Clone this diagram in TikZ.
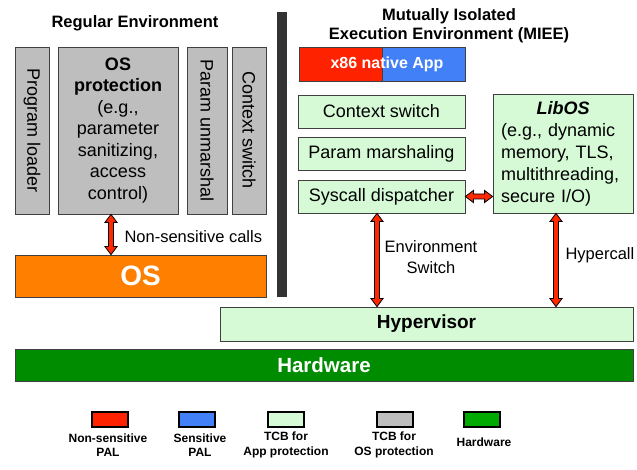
\documentclass[tikz,border=0pt]{standalone}
\usepackage{fontspec}
\setmainfont{Liberation Sans}
\usetikzlibrary{calc}
\definecolor{gbox}{RGB}{190,190,190}
\definecolor{lgreen}{RGB}{214,250,214}
\definecolor{pred}{RGB}{255,34,0}
\definecolor{pblue}{RGB}{66,128,248}
\definecolor{osorange}{RGB}{255,128,0}
\definecolor{hwgreen}{RGB}{0,140,0}
\definecolor{lggreen}{RGB}{0,170,0}
\definecolor{barc}{RGB}{51,51,51}
\definecolor{arrred}{RGB}{255,40,0}
\begin{document}
\begin{tikzpicture}[x=1pt,y=-1pt,
  blk/.style 2 args={rectangle, draw=black!75, line width=0.8pt, inner sep=0pt,
    minimum width=#1pt, minimum height=#2pt},
  lg/.style={rectangle, draw=black, line width=2pt, inner sep=0pt,
    minimum width=36pt, minimum height=15pt},
  lgtext/.style={align=center, font=\bfseries\fontsize{12}{14.5}\selectfont},
  big/.style={font=\fontsize{18}{21.5}\selectfont},
  lbl/.style={font=\fontsize{16.5}{20}\selectfont},
  ttl/.style={font=\bfseries\fontsize{16.5}{19}\selectfont, align=center},
  fatarrow/.style={fill=arrred, draw=black, line width=0.8pt, line join=miter,
    to path={
      -- ($(\tikztostart)!8pt!(\tikztotarget)!6pt!90:(\tikztotarget)$)
      -- ($(\tikztostart)!8pt!(\tikztotarget)!2.5pt!90:(\tikztotarget)$)
      -- ($(\tikztotarget)!8pt!(\tikztostart)!2.5pt!-90:(\tikztostart)$)
      -- ($(\tikztotarget)!8pt!(\tikztostart)!6pt!-90:(\tikztostart)$)
      -- (\tikztotarget)
      -- ($(\tikztotarget)!8pt!(\tikztostart)!6pt!90:(\tikztostart)$)
      -- ($(\tikztotarget)!8pt!(\tikztostart)!2.5pt!90:(\tikztostart)$)
      -- ($(\tikztostart)!8pt!(\tikztotarget)!2.5pt!-90:(\tikztotarget)$)
      -- ($(\tikztostart)!8pt!(\tikztotarget)!6pt!-90:(\tikztotarget)$)
      -- cycle}}
]
\useasboundingbox (0,0) rectangle (637,470);

% titles
\node[ttl] (regtitle) at (135,23) {Regular Environment};
\node[ttl] (mieetitle) at (449,25.5) {Mutually Isolated\\Execution Environment (MIEE)};

% regular environment boxes
\node[blk={167}{34}, fill=gbox, rotate=-90, big] (progl) at (32,130.5) {Program loader};
\node[blk={120}{167}, fill=gbox, align=center, big] (osprot) at (118,130.5)
  {\textbf{OS}\\\textbf{protection}\\(e.g.,\\parameter\\sanitizing,\\access\\control)};
\node[blk={167}{40}, fill=gbox, rotate=-90, big] (paramun) at (207,130.5) {Param unmarshal};
\node[blk={167}{34}, fill=gbox, rotate=-90, big] (ctxl) at (249,130.5) {Context switch};

% separator bar
\node[rectangle, fill=barc, inner sep=0pt, minimum width=10pt, minimum height=285pt] (bar) at (282,154.5) {};

% OS
\node[blk={251}{42}, fill=osorange, text=white, font=\bfseries\fontsize{28}{30}\selectfont] (os) at (140.5,276) {OS};

% MIEE
\node[blk={83}{34}, fill=pred] (appred) at (340.5,64) {};
\node[blk={83}{34}, fill=pblue] (appblue) at (423.5,64) {};
\node[text=white, font=\bfseries\fontsize{16}{19}\selectfont] (apptext) at (387,64) {x86 native App};

\node[blk={167}{33}, fill=lgreen, big] (ctxr) at (381.5,111.5) {Context switch};
\node[blk={167}{33}, fill=lgreen, big] (parm) at (381.5,153.5) {Param marshaling};
\node[blk={167}{33}, fill=lgreen, big] (sysd) at (381.5,196.5) {Syscall dispatcher};
\node[blk={140}{119}, fill=lgreen, align=left, text width=124pt, font=\fontsize{18}{22}\selectfont] (libos) at (563,153.5)
  {\makebox[124pt][c]{\textbf{\textit{LibOS}}}\\(e.g., dynamic\\memory, TLS,\\multithreading,\\secure I/O)};

% hypervisor and hardware
\node[blk={413}{34}, fill=lgreen, font=\bfseries\fontsize{19}{22}\selectfont] (hyper) at (426.5,324) {Hypervisor};
\node[blk={618}{32}, fill=hwgreen, text=white, font=\bfseries\fontsize{20.5}{23}\selectfont] (hw) at (324,365) {Hardware};

% arrows
\coordinate (nsx) at (111,0);
\coordinate (envx) at (377,0);
\coordinate (hcx) at (556,0);
\draw[fatarrow] (osprot.south -| nsx) to (os.north -| nsx);
\draw[fatarrow] (sysd.east) to (sysd.east -| libos.west);
\draw[fatarrow] (sysd.south -| envx) to (hyper.north -| envx);
\draw[fatarrow] (libos.south -| hcx) to (hyper.north -| hcx);

\node[lbl, anchor=west] (nslbl) at (121,237) {Non-sensitive calls};
\node[lbl, align=center, font=\fontsize{16.5}{21}\selectfont] (envlbl) at (431,257) {Environment\\Switch};
\node[lbl, anchor=west] (hclbl) at (562,255) {Hypercall};

% legend
\node[lg, fill=pred] (l1) at (110,419.5) {};
\node[lg, fill=pblue] (l2) at (196.5,419.5) {};
\node[lg, fill=lgreen] (l3) at (286,419.5) {};
\node[lg, fill=gbox] (l4) at (394.5,419.5) {};
\node[lg, fill=lggreen] (l5) at (482,419.5) {};
\node[lgtext] (t1) at (108,445) {Non-sensitive\\PAL};
\node[lgtext] (t2) at (200,445) {Sensitive\\PAL};
\node[lgtext] (t3) at (286,445) {TCB for\\App protection};
\node[lgtext] (t4) at (394,445) {TCB for\\OS protection};
\node[lgtext] (t5) at (484,442) {Hardware};
\end{tikzpicture}
\end{document}
